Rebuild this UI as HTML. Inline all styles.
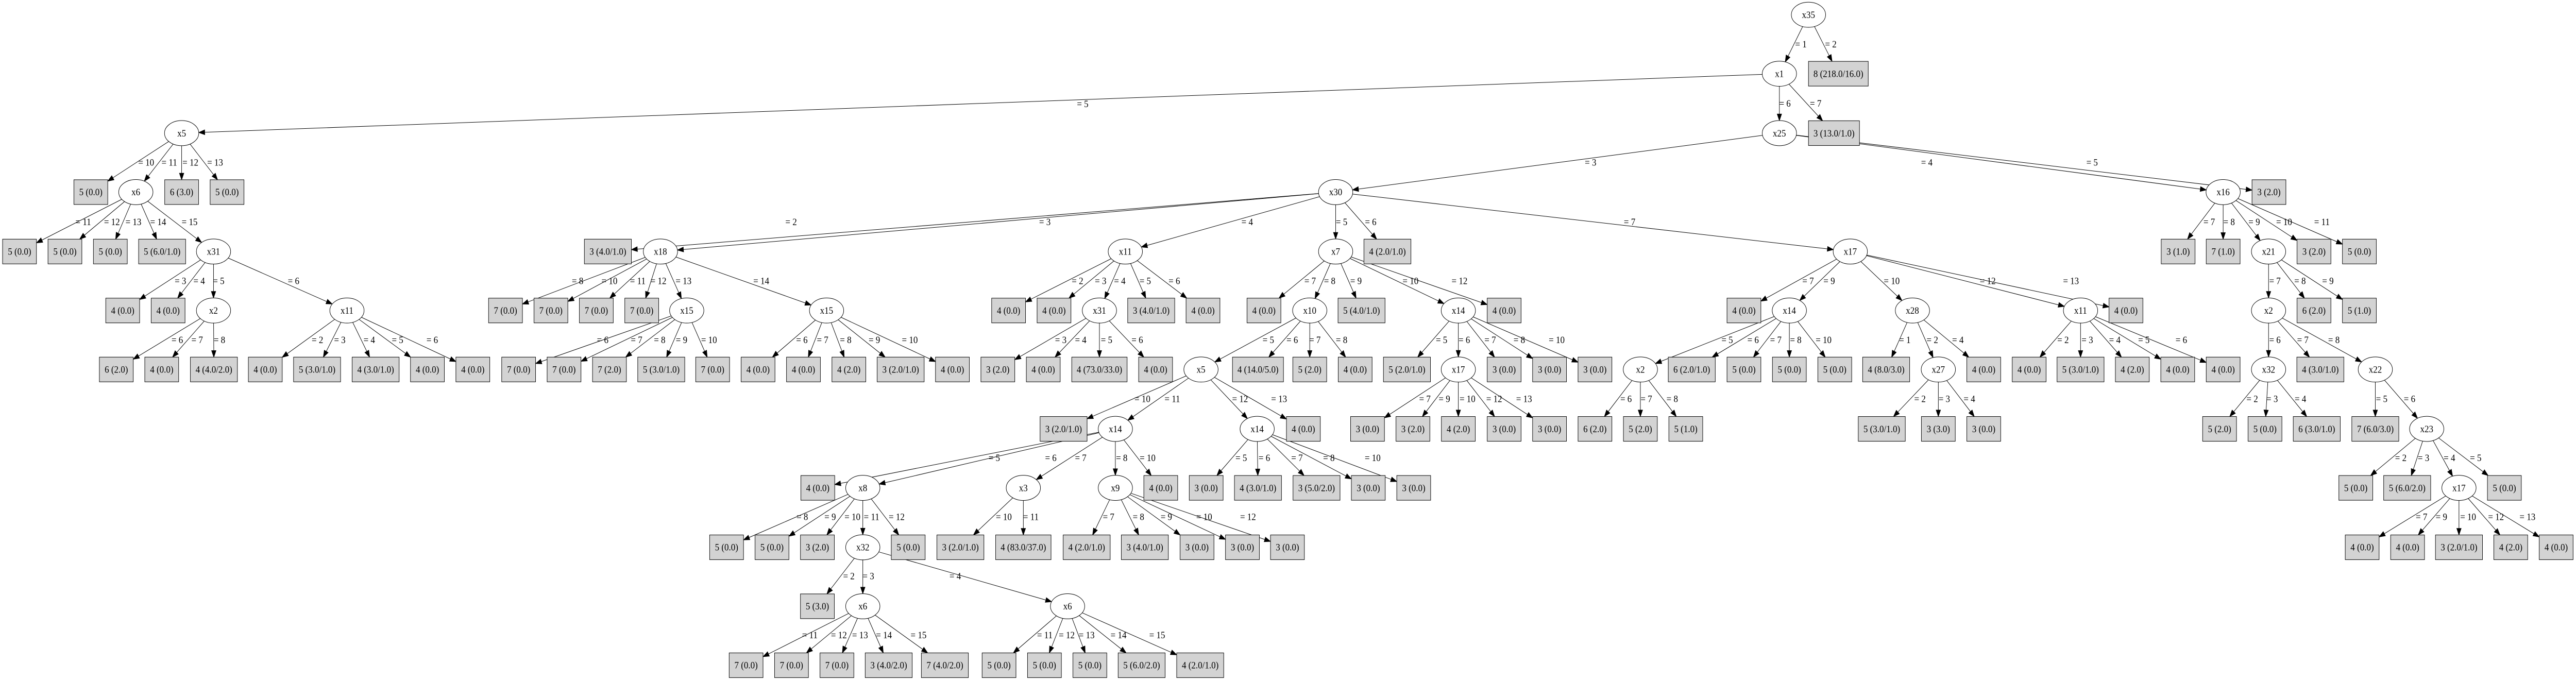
<!DOCTYPE html>
<html><head><meta charset="utf-8">
<style>
html,body{margin:0;padding:0;background:#fff;overflow:hidden;width:100%;height:100%;}
svg{display:block;position:absolute;left:0;top:0;width:100vw;height:100vh;}
text{font-family:"Liberation Serif",serif;font-size:22px;text-anchor:middle;fill:#000;}
.n ellipse{fill:#fff;stroke:#000;stroke-width:1.2;}
.b rect{fill:#d3d3d3;stroke:#000;stroke-width:1.2;}
line{stroke:#000;stroke-width:1.2;}
.ar{fill:#000;stroke:#000;stroke-width:1.2;}
</style></head><body>
<svg id="s" viewBox="0 0 6466.8 1568" preserveAspectRatio="none" xmlns="http://www.w3.org/2000/svg">
<g id="edges">
<line x1="4540" y1="34" x2="4467" y2="170"/><line x1="4540" y1="34" x2="4615" y2="170"/>
<line x1="4467" y1="170" x2="4467" y2="307"/><line x1="4467" y1="170" x2="4604" y2="307"/>
<line x1="4467" y1="170" x2="456" y2="307"/>
<line x1="4467" y1="307" x2="3353" y2="443"/><line x1="4467" y1="307" x2="5581" y2="443"/><line x1="4467" y1="307" x2="5696" y2="443"/>
<line x1="456" y1="307" x2="228" y2="443"/><line x1="456" y1="307" x2="341" y2="443"/><line x1="456" y1="307" x2="456" y2="443"/><line x1="456" y1="307" x2="570" y2="443"/>
<line x1="341" y1="443" x2="49" y2="580"/><line x1="341" y1="443" x2="163" y2="580"/><line x1="341" y1="443" x2="277" y2="580"/><line x1="341" y1="443" x2="407" y2="580"/><line x1="341" y1="443" x2="536" y2="580"/>
<line x1="536" y1="580" x2="308" y2="716"/><line x1="536" y1="580" x2="422" y2="716"/><line x1="536" y1="580" x2="536" y2="716"/><line x1="536" y1="580" x2="871" y2="716"/>
<line x1="536" y1="716" x2="292" y2="852"/><line x1="536" y1="716" x2="406" y2="852"/><line x1="536" y1="716" x2="537" y2="852"/>
<line x1="871" y1="716" x2="666" y2="852"/><line x1="871" y1="716" x2="796" y2="852"/><line x1="871" y1="716" x2="943" y2="852"/><line x1="871" y1="716" x2="1073" y2="852"/><line x1="871" y1="716" x2="1187" y2="852"/>
<line x1="3353" y1="443" x2="1526" y2="580"/><line x1="3353" y1="443" x2="1658" y2="580"/><line x1="3353" y1="443" x2="2825" y2="580"/><line x1="3353" y1="443" x2="3353" y2="580"/><line x1="3353" y1="443" x2="3483" y2="580"/><line x1="3353" y1="443" x2="4645" y2="580"/>
<line x1="1658" y1="580" x2="1269" y2="716"/><line x1="1658" y1="580" x2="1383" y2="716"/><line x1="1658" y1="580" x2="1497" y2="716"/><line x1="1658" y1="580" x2="1611" y2="716"/><line x1="1658" y1="580" x2="1724" y2="716"/><line x1="1658" y1="580" x2="2075" y2="716"/>
<line x1="1724" y1="716" x2="1302" y2="852"/><line x1="1724" y1="716" x2="1416" y2="852"/><line x1="1724" y1="716" x2="1530" y2="852"/><line x1="1724" y1="716" x2="1660" y2="852"/><line x1="1724" y1="716" x2="1789" y2="852"/>
<line x1="2075" y1="716" x2="1903" y2="852"/><line x1="2075" y1="716" x2="2017" y2="852"/><line x1="2075" y1="716" x2="2131" y2="852"/><line x1="2075" y1="716" x2="2261" y2="852"/><line x1="2075" y1="716" x2="2391" y2="852"/>
<line x1="2825" y1="580" x2="2532" y2="716"/><line x1="2825" y1="580" x2="2646" y2="716"/><line x1="2825" y1="580" x2="2760" y2="716"/><line x1="2825" y1="580" x2="2890" y2="716"/><line x1="2825" y1="580" x2="3020" y2="716"/>
<line x1="2760" y1="716" x2="2505" y2="852"/><line x1="2760" y1="716" x2="2619" y2="852"/><line x1="2760" y1="716" x2="2760" y2="852"/><line x1="2760" y1="716" x2="2901" y2="852"/>
<line x1="3015" y1="852" x2="2670" y2="989"/><line x1="3015" y1="852" x2="2800" y2="989"/><line x1="3015" y1="852" x2="3156" y2="989"/><line x1="3015" y1="852" x2="3272" y2="989"/>
<line x1="2800" y1="989" x2="2053" y2="1125"/><line x1="2800" y1="989" x2="2166" y2="1125"/><line x1="2800" y1="989" x2="2569" y2="1125"/><line x1="2800" y1="989" x2="2800" y2="1125"/><line x1="2800" y1="989" x2="2914" y2="1125"/>
<line x1="3156" y1="989" x2="3028" y2="1125"/><line x1="3156" y1="989" x2="3158" y2="1125"/><line x1="3156" y1="989" x2="3305" y2="1125"/><line x1="3156" y1="989" x2="3435" y2="1125"/><line x1="3156" y1="989" x2="3549" y2="1125"/>
<line x1="2166" y1="1125" x2="1824" y2="1262"/><line x1="2166" y1="1125" x2="1938" y2="1262"/><line x1="2166" y1="1125" x2="2052" y2="1262"/><line x1="2166" y1="1125" x2="2166" y2="1262"/><line x1="2166" y1="1125" x2="2280" y2="1262"/>
<line x1="2569" y1="1125" x2="2411" y2="1262"/><line x1="2569" y1="1125" x2="2569" y2="1262"/>
<line x1="2800" y1="1125" x2="2728" y2="1262"/><line x1="2800" y1="1125" x2="2874" y2="1262"/><line x1="2800" y1="1125" x2="3005" y2="1262"/><line x1="2800" y1="1125" x2="3119" y2="1262"/><line x1="2800" y1="1125" x2="3232" y2="1262"/>
<line x1="2166" y1="1262" x2="2052" y2="1398"/><line x1="2166" y1="1262" x2="2166" y2="1398"/><line x1="2166" y1="1262" x2="2680" y2="1398"/>
<line x1="2166" y1="1398" x2="1873" y2="1534"/><line x1="2166" y1="1398" x2="1987" y2="1534"/><line x1="2166" y1="1398" x2="2101" y2="1534"/><line x1="2166" y1="1398" x2="2231" y2="1534"/><line x1="2166" y1="1398" x2="2372" y2="1534"/>
<line x1="2680" y1="1398" x2="2508" y2="1534"/><line x1="2680" y1="1398" x2="2622" y2="1534"/><line x1="2680" y1="1398" x2="2736" y2="1534"/><line x1="2680" y1="1398" x2="2866" y2="1534"/><line x1="2680" y1="1398" x2="3013" y2="1534"/>
<line x1="3353" y1="580" x2="3173" y2="716"/><line x1="3353" y1="580" x2="3288" y2="716"/><line x1="3353" y1="580" x2="3418" y2="716"/><line x1="3353" y1="580" x2="3661" y2="716"/><line x1="3353" y1="580" x2="3776" y2="716"/>
<line x1="3288" y1="716" x2="3015" y2="852"/><line x1="3288" y1="716" x2="3158" y2="852"/><line x1="3288" y1="716" x2="3288" y2="852"/><line x1="3288" y1="716" x2="3402" y2="852"/>
<line x1="3661" y1="716" x2="3532" y2="852"/><line x1="3661" y1="716" x2="3661" y2="852"/><line x1="3661" y1="716" x2="3776" y2="852"/><line x1="3661" y1="716" x2="3890" y2="852"/><line x1="3661" y1="716" x2="4004" y2="852"/>
<line x1="3661" y1="852" x2="3433" y2="989"/><line x1="3661" y1="852" x2="3547" y2="989"/><line x1="3661" y1="852" x2="3661" y2="989"/><line x1="3661" y1="852" x2="3776" y2="989"/><line x1="3661" y1="852" x2="3890" y2="989"/>
<line x1="4645" y1="580" x2="4378" y2="716"/><line x1="4645" y1="580" x2="4492" y2="716"/><line x1="4645" y1="580" x2="4801" y2="716"/><line x1="4645" y1="580" x2="5223" y2="716"/><line x1="4645" y1="580" x2="5337" y2="716"/>
<line x1="4492" y1="716" x2="4118" y2="852"/><line x1="4492" y1="716" x2="4247" y2="852"/><line x1="4492" y1="716" x2="4378" y2="852"/><line x1="4492" y1="716" x2="4492" y2="852"/><line x1="4492" y1="716" x2="4606" y2="852"/>
<line x1="4118" y1="852" x2="4004" y2="989"/><line x1="4118" y1="852" x2="4118" y2="989"/><line x1="4118" y1="852" x2="4232" y2="989"/>
<line x1="4801" y1="716" x2="4735" y2="852"/><line x1="4801" y1="716" x2="4866" y2="852"/><line x1="4801" y1="716" x2="4980" y2="852"/>
<line x1="4866" y1="852" x2="4724" y2="989"/><line x1="4866" y1="852" x2="4866" y2="989"/><line x1="4866" y1="852" x2="4980" y2="989"/>
<line x1="5223" y1="716" x2="5094" y2="852"/><line x1="5223" y1="716" x2="5223" y2="852"/><line x1="5223" y1="716" x2="5353" y2="852"/><line x1="5223" y1="716" x2="5467" y2="852"/><line x1="5223" y1="716" x2="5581" y2="852"/>
<line x1="5581" y1="443" x2="5468" y2="580"/><line x1="5581" y1="443" x2="5581" y2="580"/><line x1="5581" y1="443" x2="5695" y2="580"/><line x1="5581" y1="443" x2="5809" y2="580"/><line x1="5581" y1="443" x2="5923" y2="580"/>
<line x1="5695" y1="580" x2="5695" y2="716"/><line x1="5695" y1="580" x2="5809" y2="716"/><line x1="5695" y1="580" x2="5923" y2="716"/>
<line x1="5695" y1="716" x2="5695" y2="852"/><line x1="5695" y1="716" x2="5825" y2="852"/><line x1="5695" y1="716" x2="5963" y2="852"/>
<line x1="5695" y1="852" x2="5572" y2="989"/><line x1="5695" y1="852" x2="5686" y2="989"/><line x1="5695" y1="852" x2="5816" y2="989"/>
<line x1="5963" y1="852" x2="5963" y2="989"/><line x1="5963" y1="852" x2="6092" y2="989"/>
<line x1="6092" y1="989" x2="5914" y2="1125"/><line x1="6092" y1="989" x2="6043" y2="1125"/><line x1="6092" y1="989" x2="6173" y2="1125"/><line x1="6092" y1="989" x2="6287" y2="1125"/>
<line x1="6173" y1="1125" x2="5930" y2="1262"/><line x1="6173" y1="1125" x2="6044" y2="1262"/><line x1="6173" y1="1125" x2="6173" y2="1262"/><line x1="6173" y1="1125" x2="6303" y2="1262"/><line x1="6173" y1="1125" x2="6417" y2="1262"/>
</g>
<g id="nodes">
<g class="n" transform="translate(4540,34)"><ellipse rx="43" ry="29"/><text y="7.5">x35</text></g>
<g class="n" transform="translate(4467,170)"><ellipse rx="43" ry="29"/><text y="7.5">x1</text></g>
<g class="n" transform="translate(4467,307)"><ellipse rx="43" ry="29"/><text y="7.5">x25</text></g>
<g class="n" transform="translate(456,307)"><ellipse rx="43" ry="29"/><text y="7.5">x5</text></g>
<g class="n" transform="translate(341,443)"><ellipse rx="43" ry="29"/><text y="7.5">x6</text></g>
<g class="n" transform="translate(536,580)"><ellipse rx="43" ry="29"/><text y="7.5">x31</text></g>
<g class="n" transform="translate(536,716)"><ellipse rx="43" ry="29"/><text y="7.5">x2</text></g>
<g class="n" transform="translate(871,716)"><ellipse rx="43" ry="29"/><text y="7.5">x11</text></g>
<g class="n" transform="translate(3353,443)"><ellipse rx="43" ry="29"/><text y="7.5">x30</text></g>
<g class="n" transform="translate(1658,580)"><ellipse rx="43" ry="29"/><text y="7.5">x18</text></g>
<g class="n" transform="translate(1724,716)"><ellipse rx="43" ry="29"/><text y="7.5">x15</text></g>
<g class="n" transform="translate(2075,716)"><ellipse rx="43" ry="29"/><text y="7.5">x15</text></g>
<g class="n" transform="translate(2825,580)"><ellipse rx="43" ry="29"/><text y="7.5">x11</text></g>
<g class="n" transform="translate(2760,716)"><ellipse rx="43" ry="29"/><text y="7.5">x31</text></g>
<g class="n" transform="translate(3015,852)"><ellipse rx="43" ry="29"/><text y="7.5">x5</text></g>
<g class="n" transform="translate(2800,989)"><ellipse rx="43" ry="29"/><text y="7.5">x14</text></g>
<g class="n" transform="translate(3156,989)"><ellipse rx="43" ry="29"/><text y="7.5">x14</text></g>
<g class="n" transform="translate(2166,1125)"><ellipse rx="43" ry="29"/><text y="7.5">x8</text></g>
<g class="n" transform="translate(2569,1125)"><ellipse rx="43" ry="29"/><text y="7.5">x3</text></g>
<g class="n" transform="translate(2800,1125)"><ellipse rx="43" ry="29"/><text y="7.5">x9</text></g>
<g class="n" transform="translate(2166,1262)"><ellipse rx="43" ry="29"/><text y="7.5">x32</text></g>
<g class="n" transform="translate(2166,1398)"><ellipse rx="43" ry="29"/><text y="7.5">x6</text></g>
<g class="n" transform="translate(2680,1398)"><ellipse rx="43" ry="29"/><text y="7.5">x6</text></g>
<g class="n" transform="translate(3353,580)"><ellipse rx="43" ry="29"/><text y="7.5">x7</text></g>
<g class="n" transform="translate(3288,716)"><ellipse rx="43" ry="29"/><text y="7.5">x10</text></g>
<g class="n" transform="translate(3661,716)"><ellipse rx="43" ry="29"/><text y="7.5">x14</text></g>
<g class="n" transform="translate(3661,852)"><ellipse rx="43" ry="29"/><text y="7.5">x17</text></g>
<g class="n" transform="translate(4645,580)"><ellipse rx="43" ry="29"/><text y="7.5">x17</text></g>
<g class="n" transform="translate(4492,716)"><ellipse rx="43" ry="29"/><text y="7.5">x14</text></g>
<g class="n" transform="translate(4118,852)"><ellipse rx="43" ry="29"/><text y="7.5">x2</text></g>
<g class="n" transform="translate(4801,716)"><ellipse rx="43" ry="29"/><text y="7.5">x28</text></g>
<g class="n" transform="translate(4866,852)"><ellipse rx="43" ry="29"/><text y="7.5">x27</text></g>
<g class="n" transform="translate(5223,716)"><ellipse rx="43" ry="29"/><text y="7.5">x11</text></g>
<g class="n" transform="translate(5581,443)"><ellipse rx="43" ry="29"/><text y="7.5">x16</text></g>
<g class="n" transform="translate(5695,580)"><ellipse rx="43" ry="29"/><text y="7.5">x21</text></g>
<g class="n" transform="translate(5695,716)"><ellipse rx="43" ry="29"/><text y="7.5">x2</text></g>
<g class="n" transform="translate(5695,852)"><ellipse rx="43" ry="29"/><text y="7.5">x32</text></g>
<g class="n" transform="translate(5963,852)"><ellipse rx="43" ry="29"/><text y="7.5">x22</text></g>
<g class="n" transform="translate(6092,989)"><ellipse rx="43" ry="29"/><text y="7.5">x23</text></g>
<g class="n" transform="translate(6173,1125)"><ellipse rx="43" ry="29"/><text y="7.5">x17</text></g>
<g class="b" transform="translate(4615,170)"><rect x="-75" y="-28.5" width="150" height="57"/><text y="7.5">8 (218.0/16.0)</text></g>
<g class="b" transform="translate(4604,307)"><rect x="-64" y="-28.5" width="128" height="57"/><text y="7.5">3 (13.0/1.0)</text></g>
<g class="b" transform="translate(228,443)"><rect x="-42.5" y="-28.5" width="85" height="57"/><text y="7.5">5 (0.0)</text></g>
<g class="b" transform="translate(456,443)"><rect x="-42.5" y="-28.5" width="85" height="57"/><text y="7.5">6 (3.0)</text></g>
<g class="b" transform="translate(570,443)"><rect x="-42.5" y="-28.5" width="85" height="57"/><text y="7.5">5 (0.0)</text></g>
<g class="b" transform="translate(49,580)"><rect x="-42.5" y="-28.5" width="85" height="57"/><text y="7.5">5 (0.0)</text></g>
<g class="b" transform="translate(163,580)"><rect x="-42.5" y="-28.5" width="85" height="57"/><text y="7.5">5 (0.0)</text></g>
<g class="b" transform="translate(277,580)"><rect x="-42.5" y="-28.5" width="85" height="57"/><text y="7.5">5 (0.0)</text></g>
<g class="b" transform="translate(407,580)"><rect x="-59" y="-28.5" width="118" height="57"/><text y="7.5">5 (6.0/1.0)</text></g>
<g class="b" transform="translate(308,716)"><rect x="-42.5" y="-28.5" width="85" height="57"/><text y="7.5">4 (0.0)</text></g>
<g class="b" transform="translate(422,716)"><rect x="-42.5" y="-28.5" width="85" height="57"/><text y="7.5">4 (0.0)</text></g>
<g class="b" transform="translate(292,852)"><rect x="-42.5" y="-28.5" width="85" height="57"/><text y="7.5">6 (2.0)</text></g>
<g class="b" transform="translate(406,852)"><rect x="-42.5" y="-28.5" width="85" height="57"/><text y="7.5">4 (0.0)</text></g>
<g class="b" transform="translate(537,852)"><rect x="-59" y="-28.5" width="118" height="57"/><text y="7.5">4 (4.0/2.0)</text></g>
<g class="b" transform="translate(666,852)"><rect x="-42.5" y="-28.5" width="85" height="57"/><text y="7.5">4 (0.0)</text></g>
<g class="b" transform="translate(796,852)"><rect x="-59" y="-28.5" width="118" height="57"/><text y="7.5">5 (3.0/1.0)</text></g>
<g class="b" transform="translate(943,852)"><rect x="-59" y="-28.5" width="118" height="57"/><text y="7.5">4 (3.0/1.0)</text></g>
<g class="b" transform="translate(1073,852)"><rect x="-42.5" y="-28.5" width="85" height="57"/><text y="7.5">4 (0.0)</text></g>
<g class="b" transform="translate(1187,852)"><rect x="-42.5" y="-28.5" width="85" height="57"/><text y="7.5">4 (0.0)</text></g>
<g class="b" transform="translate(1526,580)"><rect x="-59" y="-28.5" width="118" height="57"/><text y="7.5">3 (4.0/1.0)</text></g>
<g class="b" transform="translate(1269,716)"><rect x="-42.5" y="-28.5" width="85" height="57"/><text y="7.5">7 (0.0)</text></g>
<g class="b" transform="translate(1383,716)"><rect x="-42.5" y="-28.5" width="85" height="57"/><text y="7.5">7 (0.0)</text></g>
<g class="b" transform="translate(1497,716)"><rect x="-42.5" y="-28.5" width="85" height="57"/><text y="7.5">7 (0.0)</text></g>
<g class="b" transform="translate(1611,716)"><rect x="-42.5" y="-28.5" width="85" height="57"/><text y="7.5">7 (0.0)</text></g>
<g class="b" transform="translate(1302,852)"><rect x="-42.5" y="-28.5" width="85" height="57"/><text y="7.5">7 (0.0)</text></g>
<g class="b" transform="translate(1416,852)"><rect x="-42.5" y="-28.5" width="85" height="57"/><text y="7.5">7 (0.0)</text></g>
<g class="b" transform="translate(1530,852)"><rect x="-42.5" y="-28.5" width="85" height="57"/><text y="7.5">7 (2.0)</text></g>
<g class="b" transform="translate(1660,852)"><rect x="-59" y="-28.5" width="118" height="57"/><text y="7.5">5 (3.0/1.0)</text></g>
<g class="b" transform="translate(1789,852)"><rect x="-42.5" y="-28.5" width="85" height="57"/><text y="7.5">7 (0.0)</text></g>
<g class="b" transform="translate(1903,852)"><rect x="-42.5" y="-28.5" width="85" height="57"/><text y="7.5">4 (0.0)</text></g>
<g class="b" transform="translate(2017,852)"><rect x="-42.5" y="-28.5" width="85" height="57"/><text y="7.5">4 (0.0)</text></g>
<g class="b" transform="translate(2131,852)"><rect x="-42.5" y="-28.5" width="85" height="57"/><text y="7.5">4 (2.0)</text></g>
<g class="b" transform="translate(2261,852)"><rect x="-59" y="-28.5" width="118" height="57"/><text y="7.5">3 (2.0/1.0)</text></g>
<g class="b" transform="translate(2391,852)"><rect x="-42.5" y="-28.5" width="85" height="57"/><text y="7.5">4 (0.0)</text></g>
<g class="b" transform="translate(2532,716)"><rect x="-42.5" y="-28.5" width="85" height="57"/><text y="7.5">4 (0.0)</text></g>
<g class="b" transform="translate(2646,716)"><rect x="-42.5" y="-28.5" width="85" height="57"/><text y="7.5">4 (0.0)</text></g>
<g class="b" transform="translate(2890,716)"><rect x="-59" y="-28.5" width="118" height="57"/><text y="7.5">3 (4.0/1.0)</text></g>
<g class="b" transform="translate(3020,716)"><rect x="-42.5" y="-28.5" width="85" height="57"/><text y="7.5">4 (0.0)</text></g>
<g class="b" transform="translate(2505,852)"><rect x="-42.5" y="-28.5" width="85" height="57"/><text y="7.5">3 (2.0)</text></g>
<g class="b" transform="translate(2619,852)"><rect x="-42.5" y="-28.5" width="85" height="57"/><text y="7.5">4 (0.0)</text></g>
<g class="b" transform="translate(2760,852)"><rect x="-69.5" y="-28.5" width="139" height="57"/><text y="7.5">4 (73.0/33.0)</text></g>
<g class="b" transform="translate(2901,852)"><rect x="-42.5" y="-28.5" width="85" height="57"/><text y="7.5">4 (0.0)</text></g>
<g class="b" transform="translate(2670,989)"><rect x="-59" y="-28.5" width="118" height="57"/><text y="7.5">3 (2.0/1.0)</text></g>
<g class="b" transform="translate(3272,989)"><rect x="-42.5" y="-28.5" width="85" height="57"/><text y="7.5">4 (0.0)</text></g>
<g class="b" transform="translate(2053,1125)"><rect x="-42.5" y="-28.5" width="85" height="57"/><text y="7.5">4 (0.0)</text></g>
<g class="b" transform="translate(2914,1125)"><rect x="-42.5" y="-28.5" width="85" height="57"/><text y="7.5">4 (0.0)</text></g>
<g class="b" transform="translate(3028,1125)"><rect x="-42.5" y="-28.5" width="85" height="57"/><text y="7.5">3 (0.0)</text></g>
<g class="b" transform="translate(3158,1125)"><rect x="-59" y="-28.5" width="118" height="57"/><text y="7.5">4 (3.0/1.0)</text></g>
<g class="b" transform="translate(3305,1125)"><rect x="-59" y="-28.5" width="118" height="57"/><text y="7.5">3 (5.0/2.0)</text></g>
<g class="b" transform="translate(3435,1125)"><rect x="-42.5" y="-28.5" width="85" height="57"/><text y="7.5">3 (0.0)</text></g>
<g class="b" transform="translate(3549,1125)"><rect x="-42.5" y="-28.5" width="85" height="57"/><text y="7.5">3 (0.0)</text></g>
<g class="b" transform="translate(1824,1262)"><rect x="-42.5" y="-28.5" width="85" height="57"/><text y="7.5">5 (0.0)</text></g>
<g class="b" transform="translate(1938,1262)"><rect x="-42.5" y="-28.5" width="85" height="57"/><text y="7.5">5 (0.0)</text></g>
<g class="b" transform="translate(2052,1262)"><rect x="-42.5" y="-28.5" width="85" height="57"/><text y="7.5">3 (2.0)</text></g>
<g class="b" transform="translate(2280,1262)"><rect x="-42.5" y="-28.5" width="85" height="57"/><text y="7.5">5 (0.0)</text></g>
<g class="b" transform="translate(2411,1262)"><rect x="-59" y="-28.5" width="118" height="57"/><text y="7.5">3 (2.0/1.0)</text></g>
<g class="b" transform="translate(2569,1262)"><rect x="-69.5" y="-28.5" width="139" height="57"/><text y="7.5">4 (83.0/37.0)</text></g>
<g class="b" transform="translate(2728,1262)"><rect x="-59" y="-28.5" width="118" height="57"/><text y="7.5">4 (2.0/1.0)</text></g>
<g class="b" transform="translate(2874,1262)"><rect x="-59" y="-28.5" width="118" height="57"/><text y="7.5">3 (4.0/1.0)</text></g>
<g class="b" transform="translate(3005,1262)"><rect x="-42.5" y="-28.5" width="85" height="57"/><text y="7.5">3 (0.0)</text></g>
<g class="b" transform="translate(3119,1262)"><rect x="-42.5" y="-28.5" width="85" height="57"/><text y="7.5">3 (0.0)</text></g>
<g class="b" transform="translate(3232,1262)"><rect x="-42.5" y="-28.5" width="85" height="57"/><text y="7.5">3 (0.0)</text></g>
<g class="b" transform="translate(2052,1398)"><rect x="-42.5" y="-28.5" width="85" height="57"/><text y="7.5">5 (3.0)</text></g>
<g class="b" transform="translate(1873,1534)"><rect x="-42.5" y="-28.5" width="85" height="57"/><text y="7.5">7 (0.0)</text></g>
<g class="b" transform="translate(1987,1534)"><rect x="-42.5" y="-28.5" width="85" height="57"/><text y="7.5">7 (0.0)</text></g>
<g class="b" transform="translate(2101,1534)"><rect x="-42.5" y="-28.5" width="85" height="57"/><text y="7.5">7 (0.0)</text></g>
<g class="b" transform="translate(2231,1534)"><rect x="-59" y="-28.5" width="118" height="57"/><text y="7.5">3 (4.0/2.0)</text></g>
<g class="b" transform="translate(2372,1534)"><rect x="-59" y="-28.5" width="118" height="57"/><text y="7.5">7 (4.0/2.0)</text></g>
<g class="b" transform="translate(2508,1534)"><rect x="-42.5" y="-28.5" width="85" height="57"/><text y="7.5">5 (0.0)</text></g>
<g class="b" transform="translate(2622,1534)"><rect x="-42.5" y="-28.5" width="85" height="57"/><text y="7.5">5 (0.0)</text></g>
<g class="b" transform="translate(2736,1534)"><rect x="-42.5" y="-28.5" width="85" height="57"/><text y="7.5">5 (0.0)</text></g>
<g class="b" transform="translate(2866,1534)"><rect x="-59" y="-28.5" width="118" height="57"/><text y="7.5">5 (6.0/2.0)</text></g>
<g class="b" transform="translate(3013,1534)"><rect x="-59" y="-28.5" width="118" height="57"/><text y="7.5">4 (2.0/1.0)</text></g>
<g class="b" transform="translate(3483,580)"><rect x="-59" y="-28.5" width="118" height="57"/><text y="7.5">4 (2.0/1.0)</text></g>
<g class="b" transform="translate(3173,716)"><rect x="-42.5" y="-28.5" width="85" height="57"/><text y="7.5">4 (0.0)</text></g>
<g class="b" transform="translate(3418,716)"><rect x="-59" y="-28.5" width="118" height="57"/><text y="7.5">5 (4.0/1.0)</text></g>
<g class="b" transform="translate(3776,716)"><rect x="-42.5" y="-28.5" width="85" height="57"/><text y="7.5">4 (0.0)</text></g>
<g class="b" transform="translate(3158,852)"><rect x="-64" y="-28.5" width="128" height="57"/><text y="7.5">4 (14.0/5.0)</text></g>
<g class="b" transform="translate(3288,852)"><rect x="-42.5" y="-28.5" width="85" height="57"/><text y="7.5">5 (2.0)</text></g>
<g class="b" transform="translate(3402,852)"><rect x="-42.5" y="-28.5" width="85" height="57"/><text y="7.5">4 (0.0)</text></g>
<g class="b" transform="translate(3532,852)"><rect x="-59" y="-28.5" width="118" height="57"/><text y="7.5">5 (2.0/1.0)</text></g>
<g class="b" transform="translate(3776,852)"><rect x="-42.5" y="-28.5" width="85" height="57"/><text y="7.5">3 (0.0)</text></g>
<g class="b" transform="translate(3890,852)"><rect x="-42.5" y="-28.5" width="85" height="57"/><text y="7.5">3 (0.0)</text></g>
<g class="b" transform="translate(4004,852)"><rect x="-42.5" y="-28.5" width="85" height="57"/><text y="7.5">3 (0.0)</text></g>
<g class="b" transform="translate(3433,989)"><rect x="-42.5" y="-28.5" width="85" height="57"/><text y="7.5">3 (0.0)</text></g>
<g class="b" transform="translate(3547,989)"><rect x="-42.5" y="-28.5" width="85" height="57"/><text y="7.5">3 (2.0)</text></g>
<g class="b" transform="translate(3661,989)"><rect x="-42.5" y="-28.5" width="85" height="57"/><text y="7.5">4 (2.0)</text></g>
<g class="b" transform="translate(3776,989)"><rect x="-42.5" y="-28.5" width="85" height="57"/><text y="7.5">3 (0.0)</text></g>
<g class="b" transform="translate(3890,989)"><rect x="-42.5" y="-28.5" width="85" height="57"/><text y="7.5">3 (0.0)</text></g>
<g class="b" transform="translate(4378,716)"><rect x="-42.5" y="-28.5" width="85" height="57"/><text y="7.5">4 (0.0)</text></g>
<g class="b" transform="translate(5337,716)"><rect x="-42.5" y="-28.5" width="85" height="57"/><text y="7.5">4 (0.0)</text></g>
<g class="b" transform="translate(4247,852)"><rect x="-59" y="-28.5" width="118" height="57"/><text y="7.5">6 (2.0/1.0)</text></g>
<g class="b" transform="translate(4378,852)"><rect x="-42.5" y="-28.5" width="85" height="57"/><text y="7.5">5 (0.0)</text></g>
<g class="b" transform="translate(4492,852)"><rect x="-42.5" y="-28.5" width="85" height="57"/><text y="7.5">5 (0.0)</text></g>
<g class="b" transform="translate(4606,852)"><rect x="-42.5" y="-28.5" width="85" height="57"/><text y="7.5">5 (0.0)</text></g>
<g class="b" transform="translate(4004,989)"><rect x="-42.5" y="-28.5" width="85" height="57"/><text y="7.5">6 (2.0)</text></g>
<g class="b" transform="translate(4118,989)"><rect x="-42.5" y="-28.5" width="85" height="57"/><text y="7.5">5 (2.0)</text></g>
<g class="b" transform="translate(4232,989)"><rect x="-42.5" y="-28.5" width="85" height="57"/><text y="7.5">5 (1.0)</text></g>
<g class="b" transform="translate(4735,852)"><rect x="-59" y="-28.5" width="118" height="57"/><text y="7.5">4 (8.0/3.0)</text></g>
<g class="b" transform="translate(4980,852)"><rect x="-42.5" y="-28.5" width="85" height="57"/><text y="7.5">4 (0.0)</text></g>
<g class="b" transform="translate(4724,989)"><rect x="-59" y="-28.5" width="118" height="57"/><text y="7.5">5 (3.0/1.0)</text></g>
<g class="b" transform="translate(4866,989)"><rect x="-42.5" y="-28.5" width="85" height="57"/><text y="7.5">3 (3.0)</text></g>
<g class="b" transform="translate(4980,989)"><rect x="-42.5" y="-28.5" width="85" height="57"/><text y="7.5">3 (0.0)</text></g>
<g class="b" transform="translate(5094,852)"><rect x="-42.5" y="-28.5" width="85" height="57"/><text y="7.5">4 (0.0)</text></g>
<g class="b" transform="translate(5223,852)"><rect x="-59" y="-28.5" width="118" height="57"/><text y="7.5">5 (3.0/1.0)</text></g>
<g class="b" transform="translate(5353,852)"><rect x="-42.5" y="-28.5" width="85" height="57"/><text y="7.5">4 (2.0)</text></g>
<g class="b" transform="translate(5467,852)"><rect x="-42.5" y="-28.5" width="85" height="57"/><text y="7.5">4 (0.0)</text></g>
<g class="b" transform="translate(5581,852)"><rect x="-42.5" y="-28.5" width="85" height="57"/><text y="7.5">4 (0.0)</text></g>
<g class="b" transform="translate(5696,443)"><rect x="-42.5" y="-28.5" width="85" height="57"/><text y="7.5">3 (2.0)</text></g>
<g class="b" transform="translate(5468,580)"><rect x="-42.5" y="-28.5" width="85" height="57"/><text y="7.5">3 (1.0)</text></g>
<g class="b" transform="translate(5581,580)"><rect x="-42.5" y="-28.5" width="85" height="57"/><text y="7.5">7 (1.0)</text></g>
<g class="b" transform="translate(5809,580)"><rect x="-42.5" y="-28.5" width="85" height="57"/><text y="7.5">3 (2.0)</text></g>
<g class="b" transform="translate(5923,580)"><rect x="-42.5" y="-28.5" width="85" height="57"/><text y="7.5">5 (0.0)</text></g>
<g class="b" transform="translate(5809,716)"><rect x="-42.5" y="-28.5" width="85" height="57"/><text y="7.5">6 (2.0)</text></g>
<g class="b" transform="translate(5923,716)"><rect x="-42.5" y="-28.5" width="85" height="57"/><text y="7.5">5 (1.0)</text></g>
<g class="b" transform="translate(5825,852)"><rect x="-59" y="-28.5" width="118" height="57"/><text y="7.5">4 (3.0/1.0)</text></g>
<g class="b" transform="translate(5572,989)"><rect x="-42.5" y="-28.5" width="85" height="57"/><text y="7.5">5 (2.0)</text></g>
<g class="b" transform="translate(5686,989)"><rect x="-42.5" y="-28.5" width="85" height="57"/><text y="7.5">5 (0.0)</text></g>
<g class="b" transform="translate(5816,989)"><rect x="-59" y="-28.5" width="118" height="57"/><text y="7.5">6 (3.0/1.0)</text></g>
<g class="b" transform="translate(5963,989)"><rect x="-59" y="-28.5" width="118" height="57"/><text y="7.5">7 (6.0/3.0)</text></g>
<g class="b" transform="translate(5914,1125)"><rect x="-42.5" y="-28.5" width="85" height="57"/><text y="7.5">5 (0.0)</text></g>
<g class="b" transform="translate(6043,1125)"><rect x="-59" y="-28.5" width="118" height="57"/><text y="7.5">5 (6.0/2.0)</text></g>
<g class="b" transform="translate(6287,1125)"><rect x="-42.5" y="-28.5" width="85" height="57"/><text y="7.5">5 (0.0)</text></g>
<g class="b" transform="translate(5930,1262)"><rect x="-42.5" y="-28.5" width="85" height="57"/><text y="7.5">4 (0.0)</text></g>
<g class="b" transform="translate(6044,1262)"><rect x="-42.5" y="-28.5" width="85" height="57"/><text y="7.5">4 (0.0)</text></g>
<g class="b" transform="translate(6173,1262)"><rect x="-59" y="-28.5" width="118" height="57"/><text y="7.5">3 (2.0/1.0)</text></g>
<g class="b" transform="translate(6303,1262)"><rect x="-42.5" y="-28.5" width="85" height="57"/><text y="7.5">4 (2.0)</text></g>
<g class="b" transform="translate(6417,1262)"><rect x="-42.5" y="-28.5" width="85" height="57"/><text y="7.5">4 (0.0)</text></g>
</g>
<g id="labels">
<text x="4521" y="109">= 1</text><text x="4596" y="109">= 2</text>
<text x="4481" y="246">= 6</text><text x="4558" y="246">= 7</text>
<text x="2718" y="247">= 5</text>
<text x="3993" y="382">= 3</text><text x="4837" y="382">= 4</text><text x="5252" y="382">= 5</text>
<text x="367" y="382">= 10</text><text x="425" y="382">= 11</text><text x="478" y="382">= 12</text><text x="540" y="382">= 13</text>
<text x="209" y="519">= 11</text><text x="281" y="519">= 12</text><text x="335" y="519">= 13</text><text x="397" y="519">= 14</text><text x="476" y="519">= 15</text>
<text x="453" y="655">= 3</text><text x="500" y="655">= 4</text><text x="549" y="655">= 5</text><text x="737" y="655">= 6</text>
<text x="445" y="791">= 6</text><text x="495" y="791">= 7</text><text x="551" y="791">= 8</text>
<text x="797" y="791">= 2</text><text x="853" y="791">= 3</text><text x="927" y="791">= 4</text><text x="998" y="791">= 5</text><text x="1085" y="791">= 6</text>
<text x="1986" y="519">= 2</text><text x="2623" y="519">= 3</text><text x="3131" y="519">= 4</text><text x="3368" y="519">= 5</text><text x="3441" y="519">= 6</text><text x="4091" y="519">= 7</text>
<text x="1450" y="655">= 8</text><text x="1530" y="655">= 10</text><text x="1601" y="655">= 11</text><text x="1653" y="655">= 12</text><text x="1716" y="655">= 13</text><text x="1911" y="655">= 14</text>
<text x="1513" y="791">= 6</text><text x="1598" y="791">= 7</text><text x="1656" y="791">= 8</text><text x="1711" y="791">= 9</text><text x="1780" y="791">= 10</text>
<text x="2013" y="791">= 6</text><text x="2065" y="791">= 7</text><text x="2123" y="791">= 8</text><text x="2195" y="791">= 9</text><text x="2284" y="791">= 10</text>
<text x="2705" y="655">= 2</text><text x="2763" y="655">= 3</text><text x="2811" y="655">= 4</text><text x="2875" y="655">= 5</text><text x="2948" y="655">= 6</text>
<text x="2663" y="791">= 3</text><text x="2713" y="791">= 4</text><text x="2778" y="791">= 5</text><text x="2855" y="791">= 6</text>
<text x="2868" y="927">= 10</text><text x="2943" y="927">= 11</text><text x="3113" y="927">= 12</text><text x="3211" y="927">= 13</text>
<text x="2496" y="1063">= 5</text><text x="2638" y="1063">= 6</text><text x="2713" y="1063">= 7</text><text x="2816" y="1063">= 8</text><text x="2881" y="1063">= 10</text>
<text x="3116" y="1063">= 5</text><text x="3174" y="1063">= 6</text><text x="3256" y="1063">= 7</text><text x="3336" y="1063">= 8</text><text x="3446" y="1063">= 10</text>
<text x="2014" y="1199">= 8</text><text x="2084" y="1199">= 9</text><text x="2140" y="1199">= 10</text><text x="2188" y="1199">= 11</text><text x="2251" y="1199">= 12</text>
<text x="2520" y="1199">= 10</text><text x="2588" y="1199">= 11</text>
<text x="2783" y="1199">= 7</text><text x="2858" y="1199">= 8</text><text x="2928" y="1199">= 9</text><text x="3023" y="1199">= 10</text><text x="3133" y="1199">= 12</text>
<text x="2131" y="1336">= 2</text><text x="2180" y="1336">= 3</text><text x="2398" y="1336">= 4</text>
<text x="2033" y="1472">= 11</text><text x="2106" y="1472">= 12</text><text x="2159" y="1472">= 13</text><text x="2219" y="1472">= 14</text><text x="2306" y="1472">= 15</text>
<text x="2623" y="1472">= 11</text><text x="2678" y="1472">= 12</text><text x="2728" y="1472">= 13</text><text x="2808" y="1472">= 14</text><text x="2905" y="1472">= 15</text>
<text x="3289" y="655">= 7</text><text x="3338" y="655">= 8</text><text x="3404" y="655">= 9</text><text x="3541" y="655">= 10</text><text x="3664" y="655">= 12</text>
<text x="3184" y="791">= 5</text><text x="3244" y="791">= 6</text><text x="3301" y="791">= 7</text><text x="3368" y="791">= 8</text>
<text x="3619" y="791">= 5</text><text x="3676" y="791">= 6</text><text x="3741" y="791">= 7</text><text x="3814" y="791">= 8</text><text x="3908" y="791">= 10</text>
<text x="3577" y="927">= 7</text><text x="3626" y="927">= 9</text><text x="3684" y="927">= 10</text><text x="3751" y="927">= 12</text><text x="3826" y="927">= 13</text>
<text x="4539" y="655">= 7</text><text x="4592" y="655">= 9</text><text x="4749" y="655">= 10</text><text x="4990" y="655">= 12</text><text x="5199" y="655">= 13</text>
<text x="4336" y="791">= 5</text><text x="4401" y="791">= 6</text><text x="4458" y="791">= 7</text><text x="4508" y="791">= 8</text><text x="4578" y="791">= 10</text>
<text x="4082" y="927">= 6</text><text x="4133" y="927">= 7</text><text x="4198" y="927">= 8</text>
<text x="4782" y="791">= 1</text><text x="4851" y="791">= 2</text><text x="4915" y="791">= 4</text>
<text x="4820" y="927">= 2</text><text x="4881" y="927">= 3</text><text x="4944" y="927">= 4</text>
<text x="5179" y="791">= 2</text><text x="5240" y="791">= 3</text><text x="5309" y="791">= 4</text><text x="5382" y="791">= 5</text><text x="5476" y="791">= 6</text>
<text x="5546" y="519">= 7</text><text x="5596" y="519">= 8</text><text x="5659" y="519">= 9</text><text x="5734" y="519">= 10</text><text x="5829" y="519">= 11</text>
<text x="5711" y="655">= 7</text><text x="5774" y="655">= 8</text><text x="5844" y="655">= 9</text>
<text x="5711" y="791">= 6</text><text x="5781" y="791">= 7</text><text x="5859" y="791">= 8</text>
<text x="5654" y="927">= 2</text><text x="5704" y="927">= 3</text><text x="5775" y="927">= 4</text>
<text x="5979" y="927">= 5</text><text x="6049" y="927">= 6</text>
<text x="6027" y="1063">= 2</text><text x="6084" y="1063">= 3</text><text x="6149" y="1063">= 4</text><text x="6215" y="1063">= 5</text>
<text x="6079" y="1199">= 7</text><text x="6129" y="1199">= 9</text><text x="6196" y="1199">= 10</text><text x="6266" y="1199">= 12</text><text x="6345" y="1199">= 13</text>
</g>
</svg>
<script>
(function(){
  var NS="http://www.w3.org/2000/svg";
  var nodes={};
  document.querySelectorAll('#nodes > g').forEach(function(g){
    var m=g.getAttribute('transform').match(/translate\(([-\d.]+),([-\d.]+)\)/);
    var el=g.firstElementChild, o={x:+m[1],y:+m[2]};
    if(g.getAttribute('class')==='n'){o.e=true;o.rx=43;o.ry=29;}
    else{o.e=false;o.hw=+el.getAttribute('width')/2;o.hh=28.5;}
    nodes[m[1]+','+m[2]]=o;
  });
  function clip(o,ux,uy){
    if(o.e){return 1/Math.sqrt((ux/o.rx)*(ux/o.rx)+(uy/o.ry)*(uy/o.ry));}
    var a=Math.abs(ux)>1e-6?o.hw/Math.abs(ux):1e9, b=Math.abs(uy)>1e-6?o.hh/Math.abs(uy):1e9;
    return Math.min(a,b);
  }
  var eg=document.getElementById('edges');
  Array.prototype.slice.call(eg.querySelectorAll('line')).forEach(function(l){
    var x1=l.getAttribute('x1'),y1=l.getAttribute('y1'),x2=l.getAttribute('x2'),y2=l.getAttribute('y2');
    var p=nodes[x1+','+y1], c=nodes[x2+','+y2]; if(!p||!c) return;
    var dx=c.x-p.x, dy=c.y-p.y, L=Math.sqrt(dx*dx+dy*dy), ux=dx/L, uy=dy/L;
    var ts=clip(p,ux,uy), te=clip(c,ux,uy);
    var sx=p.x+ux*ts, sy=p.y+uy*ts, ex=c.x-ux*te, ey=c.y-uy*te;
    var bx=ex-ux*15, by=ey-uy*15;
    l.setAttribute('x1',sx);l.setAttribute('y1',sy);l.setAttribute('x2',bx);l.setAttribute('y2',by);
    var px=-uy*5.5, py=ux*5.5;
    var poly=document.createElementNS(NS,'polygon');
    poly.setAttribute('class','ar');
    poly.setAttribute('points',ex+','+ey+' '+(bx+px)+','+(by+py)+' '+(bx-px)+','+(by-py));
    eg.appendChild(poly);
  });
})();
</script>
</body></html>
